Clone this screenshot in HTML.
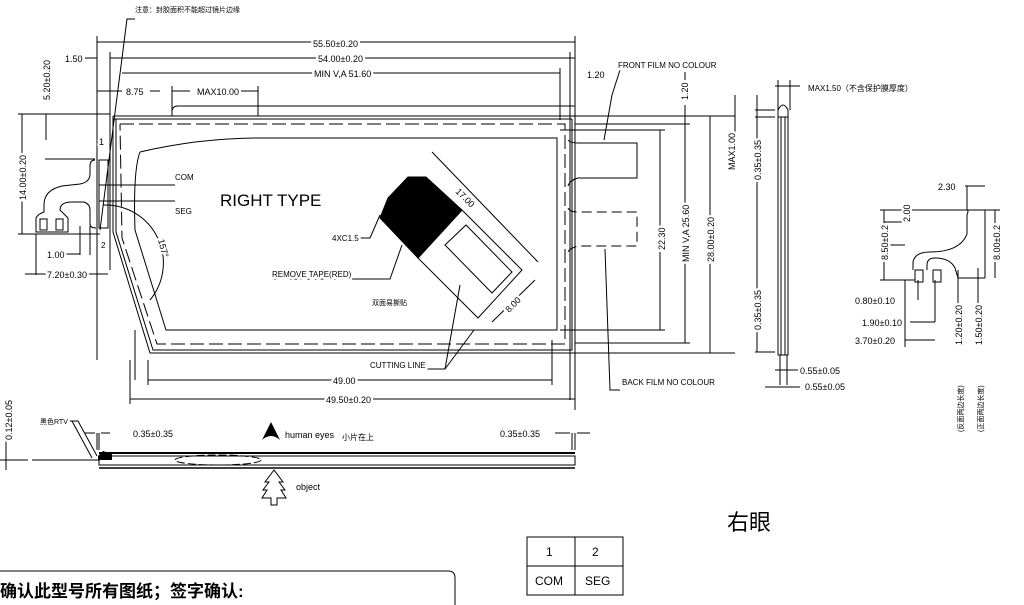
<!DOCTYPE html>
<html><head><meta charset="utf-8"><style>
html,body{margin:0;padding:0;background:#fff;}
svg{display:block;}
text{font-family:"Liberation Sans","Noto Sans CJK SC",sans-serif;fill:#000;}
.h text{paint-order:stroke;stroke:#fff;stroke-width:5px;stroke-linejoin:round;}
</style></head><body>
<svg width="1024" height="605" viewBox="0 0 1024 605" xmlns="http://www.w3.org/2000/svg">
<g stroke="#000" stroke-width="1" fill="none">
<line x1="97" y1="42" x2="575" y2="42"/>
<line x1="110" y1="58" x2="575" y2="58"/>
<line x1="122" y1="73" x2="560" y2="73"/>
<line x1="85" y1="58" x2="97" y2="58"/>
<line x1="97" y1="91" x2="122" y2="91"/><line x1="150" y1="91" x2="160" y2="91"/>
<line x1="172" y1="91" x2="190" y2="91"/><line x1="240" y1="91" x2="258" y2="91"/>
<line x1="172" y1="86" x2="172" y2="116"/><line x1="258" y1="86" x2="258" y2="116"/>
<path d="M172 112 Q172 106 178 106 L575 106"/>
<line x1="97" y1="36" x2="97" y2="360"/>
<line x1="110" y1="52" x2="110" y2="270"/>
<line x1="575" y1="36" x2="575" y2="410"/>
<line x1="570" y1="52" x2="570" y2="400"/>
<line x1="560" y1="68" x2="560" y2="120"/>
<polyline points="135,19 127,19 100,230"/>
<path d="M113 116 L575 116 M113 119 L572 119"/>
<path d="M113 116 L113 232 L150 353 L575 353"/>
<path d="M116 119 L116 232 L153 350 L572 350 L572 119"/>
<path d="M120 124 L565 124 L565 344 L157 344 L122 238 L120 124" stroke-dasharray="14,5"/>
<path d="M140 152 Q200 138 260 138 L557 138 L557 330 L166 330 L135 230 Q133 170 140 152"/>
<line x1="135" y1="330" x2="135" y2="380"/>
<path d="M103 205 A58 58 0 0 1 150 300"/>
<line x1="18" y1="114" x2="110" y2="114"/>
<line x1="18" y1="234" x2="100" y2="234"/>
<line x1="45" y1="159" x2="95" y2="159"/>
<line x1="22" y1="114" x2="22" y2="234"/>
<line x1="46" y1="114" x2="46" y2="140"/>
<path d="M95 160 Q90 160 90 166 L90 174 Q90 182 80 184 L62 186 Q44 190 44 205 L44 212 Q38 214 36 218 L36 232 L68 232 L68 218 Q64 214 60 210 Q60 202 72 202 L84 202 Q90 204 90 210 L90 224 Q90 228 96 228"/>
<rect x="40" y="219" width="7" height="11"/><rect x="56" y="219" width="7" height="11"/>
<rect x="99" y="160" width="9" height="68"/>
<line x1="99" y1="185" x2="175" y2="185"/><line x1="99" y1="201" x2="175" y2="201"/>
<line x1="36" y1="234" x2="36" y2="275"/><line x1="80" y1="226" x2="80" y2="255"/><line x1="90" y1="226" x2="90" y2="255"/>
<line x1="66" y1="254" x2="80" y2="254"/>
<line x1="25" y1="274" x2="97" y2="274"/><line x1="97" y1="274" x2="108" y2="274"/>
<path d="M568 140 Q570 143 578 143 L637 143 L637 178 L578 178 Q570 180 568 186"/>
<path d="M568 208 Q570 212 578 212 L637 212 L637 246 L578 246 Q570 248 568 252" stroke-dasharray="10,5"/>
<polyline points="604,140 612,95 620,70"/>
<polyline points="605,249 610,390 620,390"/>
<line x1="560" y1="130" x2="665" y2="130"/><line x1="560" y1="330" x2="665" y2="330"/>
<line x1="660" y1="130" x2="660" y2="330"/>
<line x1="575" y1="124" x2="690" y2="124"/><line x1="575" y1="343" x2="690" y2="343"/>
<line x1="685" y1="105" x2="685" y2="343"/>
<line x1="575" y1="116" x2="735" y2="116"/><line x1="575" y1="353" x2="735" y2="353"/>
<line x1="710" y1="116" x2="710" y2="353"/>
<line x1="685" y1="72" x2="685" y2="80"/>
<line x1="735" y1="95" x2="735" y2="170"/>
<line x1="148" y1="360" x2="148" y2="385"/><line x1="552" y1="340" x2="552" y2="385"/>
<line x1="148" y1="380" x2="552" y2="380"/>
<line x1="130" y1="360" x2="130" y2="404"/>
<line x1="130" y1="399" x2="575" y2="399"/>
<polygon points="408,177 426,177 462,210 418,258 380,218 388,198" fill="#000"/>
<polygon points="462,210 418,258 478,318 522,270"/>
<polygon points="445,245 466,225 512,272 492,293"/>
<line x1="432" y1="152" x2="538" y2="262"/>
<line x1="492" y1="322" x2="535" y2="280"/>
<polyline points="360,238 370,238 380,215"/>
<polyline points="272,279 390,279 402,245"/>
<polyline points="370,369 445,369 460,285"/><line x1="445" y1="369" x2="474" y2="330"/>
<path d="M778 117 L778 110 Q783 100 788 110 L788 117"/>
<rect x="778" y="117" width="10" height="238"/>
<line x1="781" y1="117" x2="781" y2="355"/><line x1="785" y1="117" x2="785" y2="355"/>
<line x1="775" y1="86" x2="800" y2="86"/><line x1="778" y1="80" x2="778" y2="110"/><line x1="790" y1="80" x2="790" y2="110"/>
<line x1="755" y1="110" x2="775" y2="110"/><line x1="755" y1="117" x2="775" y2="117"/>
<line x1="757" y1="95" x2="757" y2="352"/>
<line x1="755" y1="352" x2="775" y2="352"/>
<line x1="780" y1="355" x2="780" y2="385"/><line x1="787" y1="355" x2="787" y2="385"/>
<line x1="775" y1="370" x2="800" y2="370"/><line x1="765" y1="387" x2="800" y2="387"/>
<path d="M880 210 L967 210 Q969 210 967 215 L967 234 Q960 252 930 252 Q915 252 913 262 L913 270"/>
<path d="M927 270 L927 265 Q927 258 935 258 Q950 258 955 268 L958 278 L985 278"/>
<path d="M967 210 L985 210 L985 278"/>
<rect x="915" y="270" width="8" height="12"/><rect x="933" y="270" width="8" height="12"/>
<line x1="884" y1="222" x2="905" y2="222"/><line x1="884" y1="245" x2="905" y2="245"/>
<line x1="880" y1="280" x2="915" y2="280"/>
<line x1="884" y1="210" x2="884" y2="280"/>
<line x1="965" y1="186" x2="985" y2="186"/><line x1="967" y1="186" x2="967" y2="210"/>
<line x1="985" y1="210" x2="1000" y2="210"/>
<line x1="995" y1="210" x2="995" y2="278"/>
<line x1="905" y1="280" x2="905" y2="347"/><line x1="935" y1="280" x2="935" y2="322"/><line x1="918" y1="280" x2="918" y2="300"/>
<line x1="905" y1="340" x2="935" y2="340"/><line x1="910" y1="322" x2="935" y2="322"/>
<line x1="958" y1="270" x2="958" y2="305"/><line x1="978" y1="268" x2="978" y2="305"/>
<line x1="0" y1="460" x2="28" y2="460"/><line x1="32" y1="460" x2="100" y2="460"/>
<line x1="6" y1="420" x2="6" y2="470"/>
<rect x="99" y="456" width="476" height="9"/>
<line x1="99" y1="453" x2="575" y2="453" stroke-width="2"/>
<line x1="99" y1="468" x2="575" y2="468" stroke-width="1.5"/>
<ellipse cx="218" cy="460" rx="43" ry="5" stroke-dasharray="8,3"/>
<polyline points="68,421 78,421 97,456"/><line x1="72" y1="421" x2="92" y2="458"/>
<line x1="97" y1="433" x2="97" y2="450"/><line x1="99" y1="433" x2="99" y2="450"/>
<line x1="85" y1="433" x2="95" y2="433"/><line x1="101" y1="433" x2="110" y2="433"/>
<line x1="572" y1="433" x2="572" y2="450"/><line x1="575" y1="433" x2="575" y2="450"/>
<line x1="555" y1="433" x2="570" y2="433"/><line x1="577" y1="433" x2="590" y2="433"/>
<path d="M274 470 L265 482 L269 482 L263 490 L267 490 L262 498 L271 498 L271 505 L277 505 L277 498 L286 498 L281 490 L285 490 L279 482 L283 482 Z"/>
<rect x="527" y="537" width="96" height="58"/>
<line x1="575" y1="537" x2="575" y2="595"/><line x1="527" y1="566" x2="623" y2="566"/>
<path d="M-5 571 L448 571 Q455 571 455 578 L455 605"/>
</g>
<path d="M271 422 L262 440 Q271 432 280 440 Z" fill="#000"/>
<polygon points="98,456 103,451 112,454 112,460 98,460" fill="#000"/>
<g font-size="9" class="h">
<text x="135" y="12" font-size="7">注意：封胶面积不能超过镜片边缘</text>
<text x="313" y="47">55.50±0.20</text>
<text x="318" y="62">54.00±0.20</text>
<text x="314" y="77">MIN V,A 51.60</text>
<text x="65" y="62">1.50</text>
<text x="126" y="95">8.75</text>
<text x="197" y="95">MAX10.00</text>
<text x="175" y="180" font-size="8">COM</text>
<text x="175" y="214" font-size="8">SEG</text>
<text x="220" y="206" font-size="17">RIGHT TYPE</text>
<text x="99" y="145">1</text><text x="101" y="248" font-size="8">2</text>
<text x="47" y="258">1.00</text>
<text x="47" y="278">7.20±0.30</text>
<text x="332" y="241" font-size="8">4XC1.5</text>
<text x="272" y="277" font-size="8">REMOVE TAPE(RED)</text>
<text x="372" y="305" font-size="7">双面易撕贴</text>
<text x="370" y="368" font-size="8">CUTTING LINE</text>
<text x="333" y="384">49.00</text>
<text x="326" y="403">49.50±0.20</text>
<text x="618" y="68" font-size="8">FRONT FILM NO COLOUR</text>
<text x="622" y="385" font-size="8">BACK FILM NO COLOUR</text>
<text x="587" y="78">1.20</text>
<text x="808" y="91" font-size="8">MAX1.50（不含保护膜厚度）</text>
<text x="938" y="190">2.30</text>
<text x="855" y="304">0.80±0.10</text>
<text x="862" y="326">1.90±0.10</text>
<text x="855" y="344">3.70±0.20</text>
<text x="800" y="374">0.55±0.05</text>
<text x="805" y="390">0.55±0.05</text>
<text x="133" y="437">0.35±0.35</text>
<text x="500" y="437">0.35±0.35</text>
<text x="285" y="438">human eyes</text>
<text x="342" y="440" font-size="8">小片在上</text>
<text x="296" y="490">object</text>
<text x="40" y="424" font-size="7">黑色RTV</text>
<text transform="translate(50,100) rotate(-90)">5.20±0.20</text>
<text transform="translate(26,200) rotate(-90)">14.00±0.20</text>
<text transform="translate(158,240) rotate(75)">157°</text>
<text transform="translate(455,192) rotate(45)">17.00</text>
<text transform="translate(509,313) rotate(-45)">8.00</text>
<text transform="translate(665,250) rotate(-90)">22.30</text>
<text transform="translate(689,262) rotate(-90)">MIN V,A 25.60</text>
<text transform="translate(714,262) rotate(-90)">28.00±0.20</text>
<text transform="translate(735,170) rotate(-90)">MAX1.00</text>
<text transform="translate(688,100) rotate(-90)">1.20</text>
<text transform="translate(761,180) rotate(-90)">0.35±0.35</text>
<text transform="translate(761,330) rotate(-90)">0.35±0.35</text>
<text transform="translate(888,260) rotate(-90)">8.50±0.2</text>
<text transform="translate(910,222) rotate(-90)">2.00</text>
<text transform="translate(1000,260) rotate(-90)">8.00±0.2</text>
<text transform="translate(962,345) rotate(-90)">1.20±0.20</text>
<text transform="translate(982,345) rotate(-90)">1.50±0.20</text>
<text transform="translate(12,440) rotate(-90)">0.12±0.05</text>
<text transform="translate(963,432) rotate(-90)" font-size="7">(反面两边长度)</text>
<text transform="translate(983,432) rotate(-90)" font-size="7">(正面两边长度)</text>
</g>
<text x="727" y="530" font-size="22" font-family="'Noto Sans CJK SC',sans-serif">右眼</text>
<text x="546" y="556" font-size="12">1</text><text x="592" y="556" font-size="12">2</text>
<text x="535" y="585" font-size="12">COM</text><text x="585" y="585" font-size="12">SEG</text>
<text x="0" y="597" font-size="17" font-weight="bold">确认此型号所有图纸；签字确认:</text>
</svg>
</body></html>
